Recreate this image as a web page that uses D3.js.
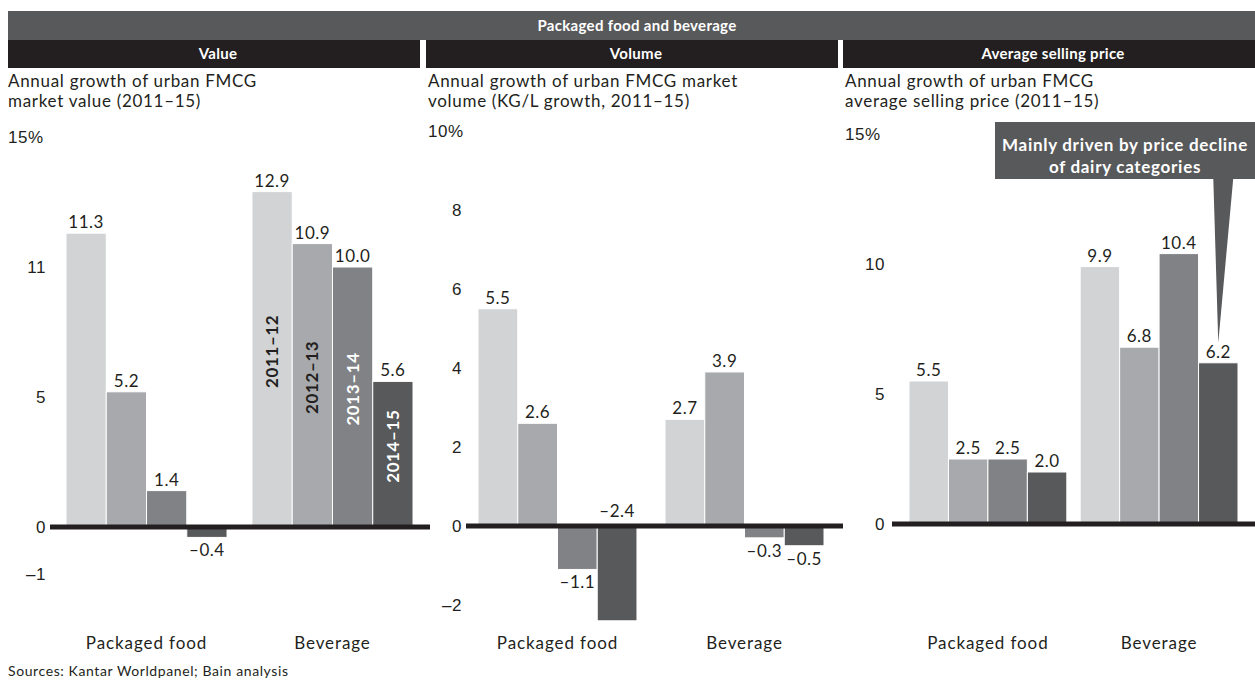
<!DOCTYPE html>
<html>
<head>
<meta charset="utf-8">
<script src="https://cdn.jsdelivr.net/npm/d3@7/dist/d3.min.js"></script>
<style>
  html, body { margin: 0; padding: 0; background: #fff; }
  svg { display: block; font-family: "Lato", "Noto Sans", sans-serif; }
</style>
</head>
<body>
<svg id="chart" width="1255" height="682"></svg>
<script>
// ---------------- DATA ----------------
const categories = ["Packaged food", "Beverage"];
const periods = ["2011–12", "2012–13", "2013–14", "2014–15"];

const valuePackaged = [11.3, 5.2, 1.4, -0.4];
const valueBeverage = [12.9, 10.9, 10.0, 5.6];

const volumePackaged = [5.5, 2.6, -1.1, -2.4];
const volumeBeverage = [2.7, 3.9, -0.3, -0.5];

const pricePackaged = [5.5, 2.5, 2.5, 2.0];
const priceBeverage = [9.9, 6.8, 10.4, 6.2];

const valueTickValues = [15, 10, 5, 0, -1.8];
const valueTickLabels = ["15%", "11", "5", "0", "–1"];
const volumeTickValues = [10, 8, 6, 4, 2, 0, -2];
const volumeTickLabels = ["10%", "8", "6", "4", "2", "0", "–2"];
const priceTickValues = [15, 10, 5, 0];
const priceTickLabels = ["15%", "10", "5", "0"];

const headerTitle = "Packaged food and beverage";
const panelTitles = ["Value", "Volume", "Average selling price"];
const panelSubtitles = [
  ["Annual growth of urban FMCG", "market value (2011–15)"],
  ["Annual growth of urban FMCG market", "volume (KG/L growth, 2011–15)"],
  ["Annual growth of urban FMCG", "average selling price (2011–15)"]
];
const calloutLines = ["Mainly driven by price decline", "of dairy categories"];
const sourceText = "Sources: Kantar Worldpanel; Bain analysis";

// ---------------- STYLE / LAYOUT ----------------
const colors = ["#d1d3d4", "#a7a9ac", "#808285", "#58595b"];
const ink = "#231f20";
const svg = d3.select("#chart");

// top header
svg.append("rect").attr("x", 8).attr("y", 11).attr("width", 1247).attr("height", 29).attr("fill", "#58595b");
svg.append("text").attr("x", 637).attr("y", 31).attr("text-anchor", "middle")
  .attr("fill", "#fff").attr("font-weight", 700).attr("font-size", 15).attr("letter-spacing", 0.3).text(headerTitle);

const panels = [
  { left: 8, right: 420, zeroStart: 50, zeroEnd: 430, tickX: 46, y0: 527, yTop: 137, topVal: 15,
    xRange: [66, 413], padInner: 0.134, data: [valuePackaged, valueBeverage],
    ticks: valueTickValues, tickLabels: valueTickLabels, seriesLabels: true },
  { left: 426, right: 838, zeroStart: 466, zeroEnd: 843, tickX: 462, y0: 526, yTop: 131, topVal: 10,
    xRange: [478, 824], padInner: 0.15, data: [volumePackaged, volumeBeverage],
    ticks: volumeTickValues, tickLabels: volumeTickLabels },
  { left: 843, right: 1255, zeroStart: 892, zeroEnd: 1255, tickX: 885, y0: 524, yTop: 134, topVal: 15,
    xRange: [909, 1238], padInner: 0.078, data: [pricePackaged, priceBeverage],
    ticks: priceTickValues, tickLabels: priceTickLabels, callout: true }
];

panels.forEach((p, pi) => {
  const g = svg.append("g");
  // sub-header
  g.append("rect").attr("x", p.left).attr("y", 40).attr("width", p.right - p.left).attr("height", 28).attr("fill", ink);
  g.append("text").attr("x", (p.left + p.right) / 2 + 4).attr("y", 59).attr("text-anchor", "middle")
    .attr("fill", "#fff").attr("font-weight", 700).attr("font-size", 15).attr("letter-spacing", 0.3).text(panelTitles[pi]);
  // subtitle
  panelSubtitles[pi].forEach((line, li) => {
    g.append("text").attr("x", p.left + (pi === 0 ? 0 : 2)).attr("y", 87 + li * 20)
      .attr("fill", ink).attr("font-size", 17).attr("letter-spacing", 0.7).text(line);
  });

  const y = d3.scaleLinear().domain([0, p.topVal]).range([p.y0, p.yTop]);
  const x0 = d3.scaleBand().domain(categories).range(p.xRange).paddingInner(p.padInner).paddingOuter(0);
  const x1 = d3.scaleBand().domain(periods).range([0, x0.bandwidth()]).padding(0);

  // y axis labels
  const axis = d3.axisLeft(y).tickValues(p.ticks).tickSize(0).tickPadding(0)
    .tickFormat((d, i) => p.tickLabels[i]);
  const ag = g.append("g").attr("transform", `translate(${p.tickX},0)`).call(axis);
  ag.select(".domain").remove();
  ag.selectAll("text").attr("font-size", 17).attr("fill", ink).attr("font-family", null)
    .attr("letter-spacing", 0.5).attr("dy", "0.35em")
    .each(function (d, i) {
      if (String(p.tickLabels[i]).includes("%")) {
        d3.select(this).attr("text-anchor", "start").attr("x", p.left - p.tickX + (pi === 0 ? 0 : 2));
      }
    });

  // bars
  categories.forEach((cat, ci) => {
    const vals = p.data[ci];
    const gg = g.append("g").attr("transform", `translate(${x0(cat)},0)`);
    gg.selectAll("rect").data(vals).join("rect")
      .attr("x", (d, i) => x1(periods[i]))
      .attr("width", x1.bandwidth())
      .attr("y", d => Math.min(y(d), y(0)))
      .attr("height", d => Math.abs(y(d) - y(0)))
      .attr("fill", (d, i) => colors[i])
      .attr("stroke", "#fff").attr("stroke-width", 1);

    gg.selectAll("text.val").data(vals).join("text").attr("class", "val")
      .attr("x", (d, i) => x1(periods[i]) + x1.bandwidth() / 2)
      .attr("y", d => {
        if (d >= 0) return y(d) - 5;
        const below = y(d) + 19;
        return below > 625 ? y(0) - 9 : below;
      })
      .attr("text-anchor", "middle").attr("font-size", 17).attr("letter-spacing", 0.5).attr("fill", ink)
      .text(d => d < 0 ? "–" + Math.abs(d).toFixed(1) : d.toFixed(1));

    if (p.seriesLabels && ci === 1) {
      gg.selectAll("text.ser").data(vals).join("text").attr("class", "ser")
        .attr("transform", (d, i) => {
          const cx = x1(periods[i]) + x1.bandwidth() / 2;
          const cy = y(d / 2) - 8;
          return `translate(${cx + 6},${cy}) rotate(-90)`;
        })
        .attr("text-anchor", "middle").attr("font-size", 17).attr("font-weight", 700).attr("letter-spacing", 0.6)
        .attr("fill", (d, i) => i < 2 ? ink : "#fff")
        .text((d, i) => periods[i]);
    }
  });

  // zero line
  g.append("line").attr("x1", p.zeroStart).attr("x2", p.zeroEnd).attr("y1", y(0)).attr("y2", y(0))
    .attr("stroke", ink).attr("stroke-width", 5);

  // category labels
  g.selectAll("text.cat").data(categories).join("text").attr("class", "cat")
    .attr("x", d => x0(d) + x0.bandwidth() / 2).attr("y", 649)
    .attr("text-anchor", "middle").attr("font-size", 17).attr("letter-spacing", 0.9).attr("fill", ink).text(d => d);

  // callout
  if (p.callout) {
    const lastCat = categories[1];
    const lastIdx = periods.length - 1;
    const tipX = x0(lastCat) + x1(periods[lastIdx]) + x1.bandwidth() / 2;
    const tipY = y(p.data[1][lastIdx]) - 20;
    const boxTop = 122, boxBottom = 179, boxLeft = 995, boxRight = 1255;
    g.append("path")
      .attr("d", `M${tipX - 5},${boxBottom - 1} L${tipX + 15},${boxBottom - 1} L${tipX},${tipY} Z`)
      .attr("fill", "#58595b");
    g.append("rect").attr("x", boxLeft).attr("y", boxTop).attr("width", boxRight - boxLeft)
      .attr("height", boxBottom - boxTop).attr("fill", "#58595b");
    calloutLines.forEach((line, li) => {
      g.append("text").attr("x", (boxLeft + boxRight) / 2).attr("y", 151 + li * 22)
        .attr("text-anchor", "middle").attr("fill", "#fff").attr("font-weight", 700)
        .attr("font-size", 17).attr("letter-spacing", 0.7).text(line);
    });
  }
});

svg.append("text").attr("x", 8).attr("y", 676).attr("font-size", 14).attr("letter-spacing", 0.6)
  .attr("fill", ink).text(sourceText);
</script>
</body>
</html>
